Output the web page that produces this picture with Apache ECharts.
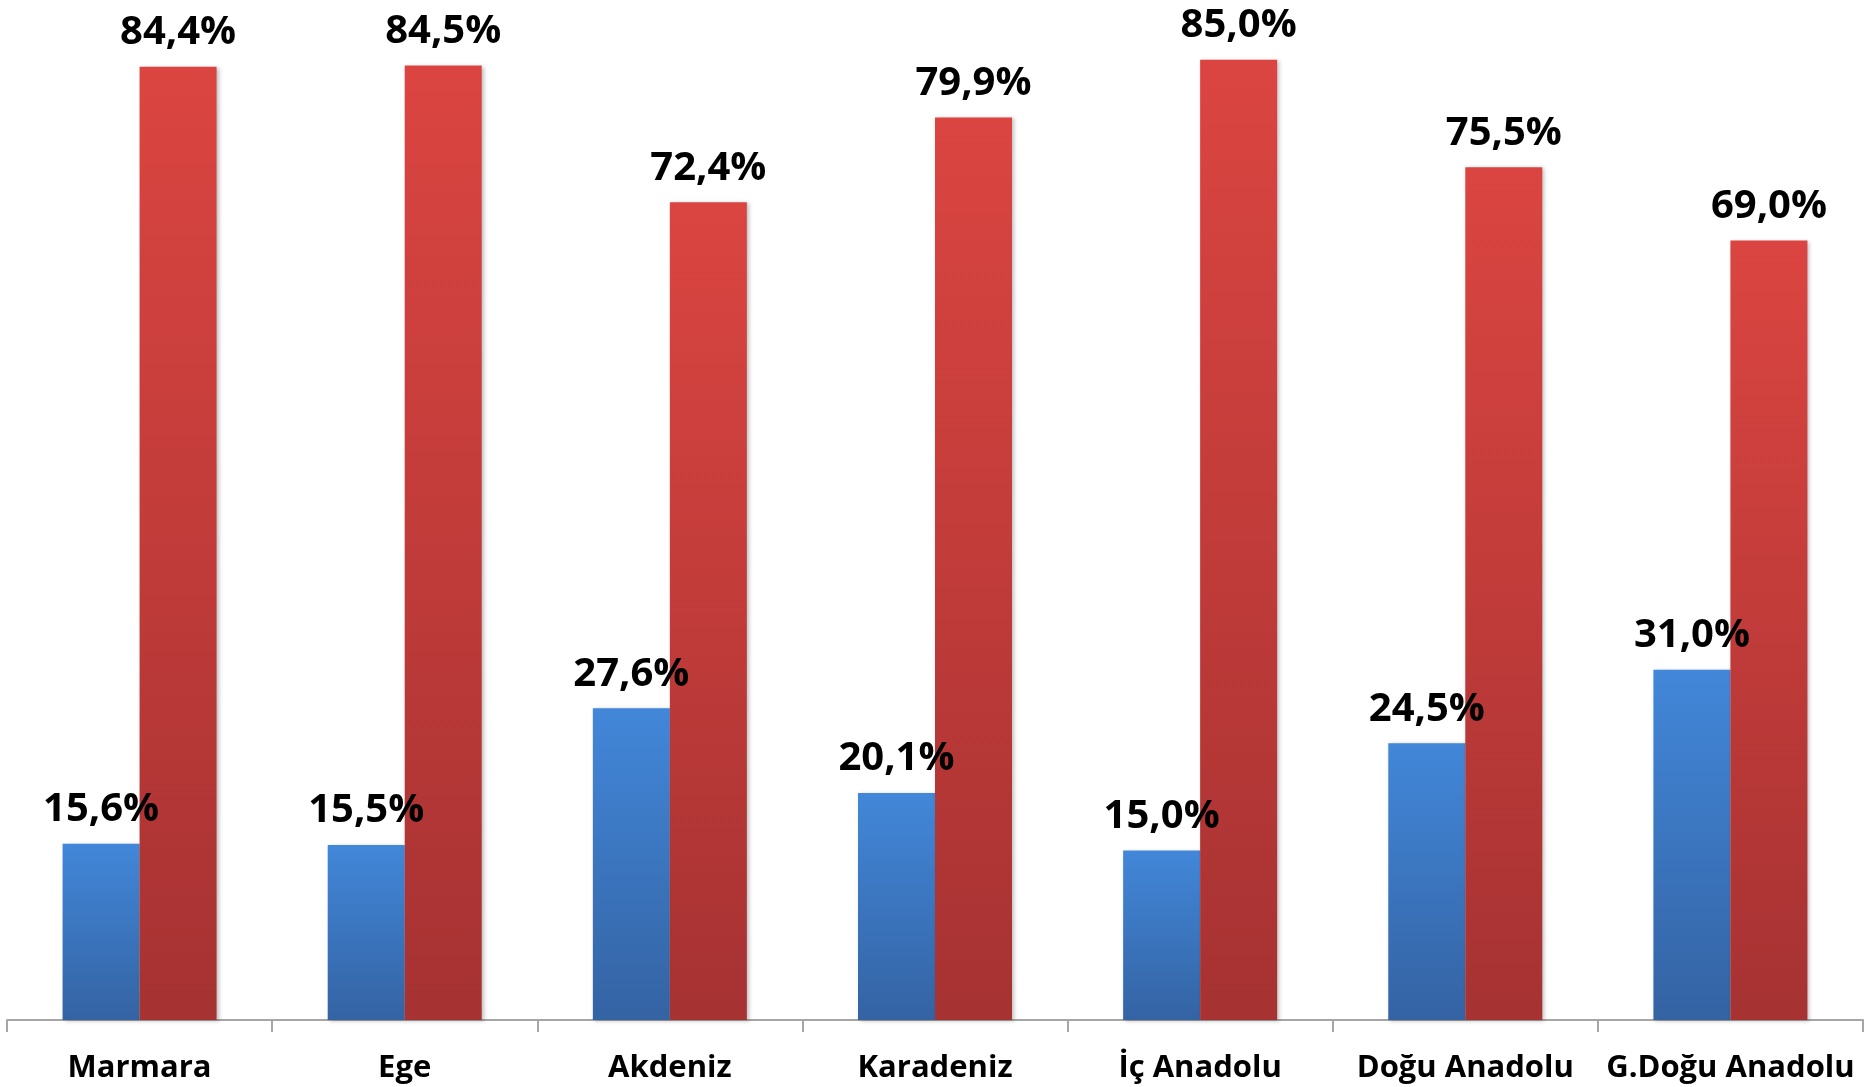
<!DOCTYPE html>
<html>
<head>
<meta charset="utf-8">
<script src="https://cdn.jsdelivr.net/npm/echarts@6/dist/echarts.min.js"></script>
<style>
  html, body { margin: 0; padding: 0; background: #fff; }
  #chart { width: 1875px; height: 1087px; }
</style>
</head>
<body>
<div id="chart"></div>
<script>
const regions = ['Marmara', 'Ege', 'Akdeniz', 'Karadeniz', 'İç Anadolu', 'Doğu Anadolu', 'G.Doğu Anadolu']
const blueValues = [15.6, 15.5, 27.6, 20.1, 15.0, 24.5, 31.0]
const redValues = [84.4, 84.5, 72.4, 79.9, 85.0, 75.5, 69.0]

const font = '"Open Sans", "Noto Sans", sans-serif'

function pct(p) {
  return p.value.toFixed(1).replace('.', ',') + '%'
}

function barSeries(values, top, bottom) {
  return {
    type: 'bar',
    data: values,
    barWidth: 77,
    barGap: '0%',
    itemStyle: {
      color: {
        type: 'linear', x: 0, y: 0, x2: 0, y2: 1,
        colorStops: [
          { offset: 0, color: top },
          { offset: 1, color: bottom }
        ]
      },
      shadowColor: 'rgba(0,0,0,0.25)',
      shadowBlur: 4,
      shadowOffsetX: 2,
      shadowOffsetY: 1
    },
    label: {
      show: true,
      position: 'top',
      distance: 14,
      formatter: pct,
      color: '#000',
      fontFamily: font,
      fontWeight: 'bold',
      fontSize: 40
    }
  }
}

const chart = echarts.init(document.getElementById('chart'))

chart.setOption({
  animation: false,
  grid: { left: 7, right: 12, top: 0, bottom: 67 },
  xAxis: {
    type: 'category',
    data: regions,
    axisLine: { lineStyle: { color: '#a6a6a6', width: 2 } },
    axisTick: { show: true, interval: 0, length: 12, lineStyle: { color: '#a6a6a6', width: 2 } },
    axisLabel: {
      interval: 0,
      color: '#000',
      fontFamily: font,
      fontWeight: 'bold',
      fontSize: 31,
      margin: 33
    }
  },
  yAxis: {
    type: 'value',
    min: 0,
    max: 90.3,
    show: false
  },
  series: [
    barSeries(blueValues, '#4287d9', '#3463a3'),
    barSeries(redValues, '#db4541', '#a63232')
  ]
})
</script>
</body>
</html>
